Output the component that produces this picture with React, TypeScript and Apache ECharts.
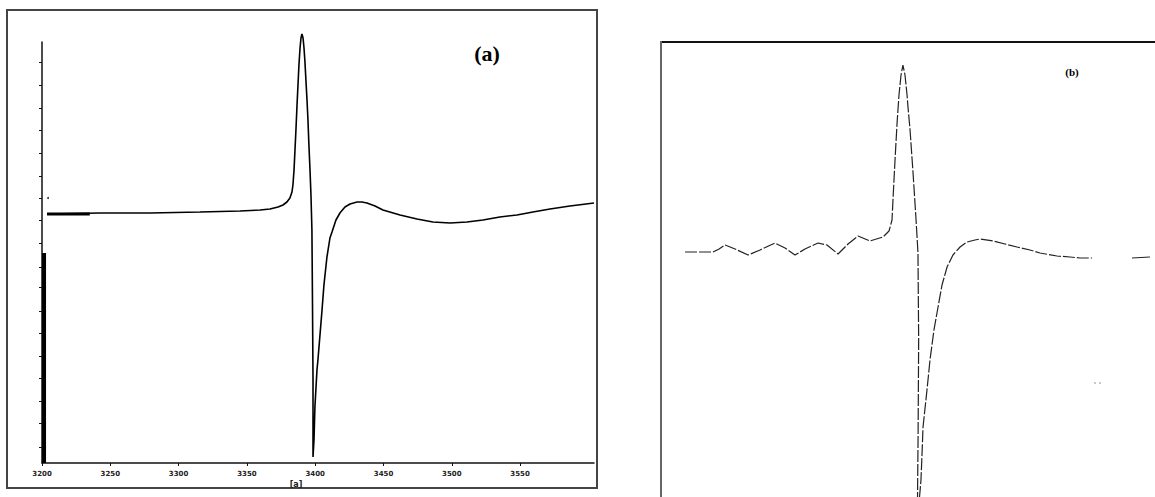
import { useEffect, useRef } from "react";
import * as echarts from "echarts";

// Panel (a): field (G) tick labels and intensity tick positions (a.u.)
const fieldTicksA = [3200, 3250, 3300, 3350, 3400, 3450, 3500, 3550];
const intensityTicksA = [150, 127, 104, 82, 59, 36, 14, -8, -31, -55, -75, -99, -121, -144, -166, -189, -211, -235];

// Panel (a) spectrum [field, intensity]
const spectrumA: [number, number][] = [
  [3203.7, -2], [3242.5, -1], [3279.1, -1], [3315.7, 0], [3344.9, 1], [3359.6, 2], [3366.9, 3],
  [3372.8, 5], [3376.4, 7], [3379.3, 10], [3381.5, 14], [3383.0, 20], [3383.7, 27], [3384.5, 42],
  [3385.2, 62], [3385.9, 82], [3386.7, 107], [3387.4, 127], [3388.1, 147], [3388.9, 164],
  [3389.6, 174], [3390.3, 178], [3391.1, 174], [3391.8, 164], [3392.5, 150], [3393.2, 132],
  [3394.0, 112], [3394.7, 92], [3395.4, 67], [3396.2, 42], [3396.9, 17], [3397.6, -18],
  [3398.0, -88], [3398.4, -168], [3398.4, -245], [3399.1, -228], [3399.8, -195], [3401.3, -158],
  [3402.0, -148], [3403.5, -123], [3405.0, -98], [3406.4, -73], [3408.6, -45], [3410.8, -26],
  [3412.3, -20], [3415.2, -8], [3418.1, -1], [3421.8, 5], [3425.5, 8], [3430.6, 10], [3434.2, 10],
  [3437.9, 9], [3443.8, 6], [3449.6, 2], [3462.1, -3], [3474.5, -7], [3486.2, -10], [3498.7, -11],
  [3511.1, -10], [3522.8, -8], [3535.2, -5], [3547.7, -3], [3559.4, 0], [3571.9, 3], [3586.5, 6],
  [3604.1, 9],
];
const spectrumAStart: [number, number][] = [[3203.7, -2], [3235.0, -2]];
const axisBarA: [number, number][] = [[3201.5, -41], [3201.5, -251]];
const specksA: [number, number][] = [[3204.4, 14]];

// Panel (b) spectrum [field, intensity]
const spectrumB: [number, number][] = [
  [3227.6, 1], [3238.5, 1], [3248.1, 1], [3252.5, 4], [3256.8, 8], [3264.2, 4], [3273.7, -2],
  [3282.5, 3], [3293.4, 10], [3300.8, 5], [3308.1, -2], [3315.4, 4], [3324.9, 10], [3331.5, 8],
  [3339.6, -1], [3346.9, 9], [3354.2, 17], [3363.0, 12], [3372.5, 16], [3376.9, 22], [3379.1, 33],
  [3379.8, 53], [3381.3, 93], [3382.8, 130], [3384.2, 158], [3385.7, 178], [3387.1, 188],
  [3388.6, 178], [3390.1, 158], [3390.8, 146], [3392.3, 123], [3394.5, 80], [3396.7, 33],
  [3398.1, 0], [3398.6, -87], [3398.2, -180], [3397.6, -270], [3400.3, -227], [3401.1, -200],
  [3401.8, -174], [3404.7, -137], [3406.9, -107], [3409.8, -77], [3412.8, -54], [3415.7, -32],
  [3419.4, -14], [3423.7, -2], [3428.9, 6], [3434.0, 11], [3439.8, 13], [3443.5, 14], [3453.0, 12],
  [3461.8, 9], [3470.6, 6], [3480.1, 3], [3487.4, 0], [3499.9, -3], [3509.4, -4], [3516.7, -5],
  [3525.5, -5],
];
const spectrumBTail: [number, number][] = [[3554.8, -5], [3567.9, -4]];
const specksB: [number, number][] = [[3527.7, -130], [3531.3, -130]];

export default function App() {
  const ref = useRef<HTMLDivElement>(null);
  useEffect(() => {
    if (!ref.current) return;
    const chart = echarts.init(ref.current, undefined, { renderer: "svg" });
    chart.setOption({
      animation: false,
      backgroundColor: "#ffffff",
      grid: [
        { left: 42, top: 42, width: 552, height: 421 },
        { left: 661, top: 42, width: 494, height: 455 },
      ],
      xAxis: [
        {
          gridIndex: 0, type: "value", min: 3200, max: 3604.1,
          axisLine: { onZero: false, lineStyle: { color: "#111", width: 1.5 } },
          splitLine: { show: false },
          axisTick: { customValues: fieldTicksA, length: 3, lineStyle: { color: "#111" } },
          axisLabel: {
            customValues: fieldTicksA, fontSize: 7, fontWeight: "bold", color: "#222",
            margin: 7, fontFamily: "DejaVu Sans",
            formatter: (v: number) => String(v),
          },
        },
        { gridIndex: 1, type: "value", min: 3210, max: 3571.6, show: false },
      ],
      yAxis: [
        {
          gridIndex: 0, type: "value", min: -251, max: 170,
          axisLine: { show: true, onZero: false, lineStyle: { color: "#111", width: 1.5 } },
          axisTick: { show: true, customValues: intensityTicksA, length: 3, lineStyle: { color: "#111" } },
          axisLabel: { show: false },
          splitLine: { show: false },
        },
        { gridIndex: 1, type: "value", min: -244, max: 211, show: false },
      ],
      series: [
        {
          type: "line", xAxisIndex: 0, yAxisIndex: 0, data: spectrumA, showSymbol: false,
          clip: false, lineStyle: { color: "#000", width: 1.6 },
        },
        {
          type: "line", xAxisIndex: 0, yAxisIndex: 0, data: spectrumAStart, showSymbol: false,
          lineStyle: { color: "#000", width: 3 },
        },
        {
          type: "line", xAxisIndex: 0, yAxisIndex: 0, data: axisBarA, showSymbol: false,
          clip: false, lineStyle: { color: "#000", width: 4 },
        },
        {
          type: "scatter", xAxisIndex: 0, yAxisIndex: 0, data: specksA, symbolSize: 2,
          itemStyle: { color: "#000" },
        },
        {
          type: "line", xAxisIndex: 1, yAxisIndex: 1, data: spectrumB, showSymbol: false,
          lineStyle: { color: "#222", width: 1.2, type: [12, 2] },
        },
        {
          type: "line", xAxisIndex: 1, yAxisIndex: 1, data: spectrumBTail, showSymbol: false,
          lineStyle: { color: "#222", width: 1.2 },
        },
        {
          type: "scatter", xAxisIndex: 1, yAxisIndex: 1, data: specksB, symbolSize: 1.5,
          itemStyle: { color: "#777" },
        },
      ],
      graphic: [
        {
          type: "rect", shape: { x: 7, y: 10, width: 590, height: 478 },
          style: { fill: "none", stroke: "#444", lineWidth: 2 }, silent: true,
        },
        {
          type: "line", shape: { x1: 660, y1: 42, x2: 1155, y2: 42 },
          style: { stroke: "#111", lineWidth: 2 }, silent: true,
        },
        {
          type: "line", shape: { x1: 661, y1: 41, x2: 661, y2: 497 },
          style: { stroke: "#666", lineWidth: 2 }, silent: true,
        },
        {
          type: "text", x: 487, y: 53,
          style: {
            text: "(a)", font: "bold 22px 'Liberation Serif'", fill: "#000",
            align: "center", verticalAlign: "middle",
          },
        },
        {
          type: "text", x: 1072, y: 72,
          style: {
            text: "(b)", font: "bold 11px 'Liberation Serif'", fill: "#000",
            align: "center", verticalAlign: "middle",
          },
        },
        {
          type: "text", x: 296, y: 484,
          style: {
            text: "[a]", font: "bold 8px 'DejaVu Sans'", fill: "#222",
            align: "center", verticalAlign: "middle",
          },
        },
      ],
    });
    return () => chart.dispose();
  }, []);
  return (
    <div
      ref={ref}
      style={{ position: "fixed", left: 0, top: 0, width: 1155, height: 497, background: "#fff" }}
    />
  );
}
